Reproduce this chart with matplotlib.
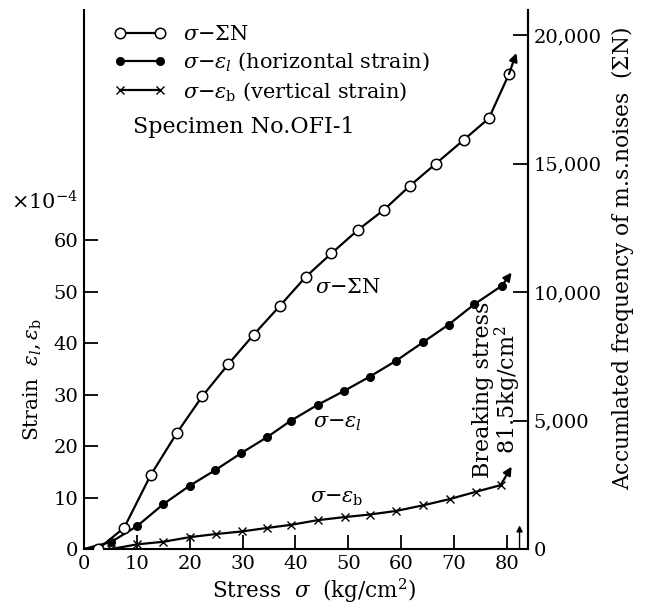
import numpy as np
import matplotlib
matplotlib.use("Agg")
import matplotlib.pyplot as plt

plt.rcParams["font.family"] = "DejaVu Serif"
plt.rcParams["mathtext.fontset"] = "dejavuserif"

# ==========================
# Data
# ==========================

# sigma - Sigma N  (right axis)
stress_N = [0, 2.7, 7.6, 12.6, 17.6, 22.4, 27.3, 32.1, 37.1, 42.0,
            46.8, 51.8, 56.7, 61.7, 66.6, 71.8, 76.6, 80.4]
noise_N = [0, 0, 830, 2870, 4525, 5950, 7190, 8340, 9470, 10600,
           11500, 12410, 13190, 14140, 15000, 15910, 16760, 18480]

# sigma - eps_l  (horizontal strain, x1e-4)
stress_l = [0, 5.2, 10.1, 15, 20, 24.8, 29.7, 34.6, 39.1, 44.2,
            49.2, 54.1, 59.1, 64.2, 69.0, 73.8, 79.0]
strain_l = [0, 1.4, 4.5, 8.7, 12.3, 15.3, 18.6, 21.7, 24.9, 28.0,
            30.7, 33.5, 36.6, 40.2, 43.6, 47.5, 51.1]

# sigma - eps_b  (vertical strain, x1e-4)
stress_b = [0, 5.2, 10, 15, 20, 24.9, 29.8, 34.7, 39.2, 44.2,
            49.3, 54.1, 59.1, 64.2, 69.2, 74.1, 78.8]
strain_b = [0, 0, 0.9, 1.4, 2.3, 2.9, 3.4, 4.1, 4.7, 5.6,
            6.2, 6.7, 7.4, 8.5, 9.7, 11.1, 12.4]

# arrow tips after the last reading
tip_N = (81.8, 19300)
tip_l = (80.9, 53.7)
tip_b = (80.9, 16.0)

breaking_stress = 82.4

x_ticks = [0, 10, 20, 30, 40, 50, 60, 70, 80]
left_ticks = [0, 10, 20, 30, 40, 50, 60]
right_ticks = [0, 5000, 10000, 15000, 20000]
right_labels = ["0", "5,000", "10,000", "15,000", "20,000"]

# ==========================
# Plot
# ==========================

W, H = 648, 608
fig = plt.figure(figsize=(W / 100, H / 100), dpi=100)
ax = fig.add_axes([84 / W, 1 - 549 / H, (528 - 84) / W, (549 - 10) / H])
ax2 = ax.twinx()

ax.set_xlim(0, 84)
ax.set_ylim(0, 104.7)
ax2.set_ylim(0, 20973)

lw = 1.6
h1, = ax2.plot(stress_N, noise_N, color="k", lw=lw, marker="o", ms=7.5,
               mfc="white", mec="k", mew=1.1, markevery=slice(1, None))
h2, = ax.plot(stress_l, strain_l, color="k", lw=lw, marker="o", ms=5.5,
              mfc="k", mec="k", markevery=slice(1, None))
h3, = ax.plot(stress_b, strain_b, color="k", lw=lw, marker="x", ms=6,
              mew=1.0, markevery=slice(1, None))

arrow = dict(arrowstyle="-|>", lw=lw, color="k", mutation_scale=12,
             shrinkA=0, shrinkB=0)
ax2.annotate("", xy=tip_N, xytext=(stress_N[-1], noise_N[-1]), arrowprops=arrow)
ax.annotate("", xy=tip_l, xytext=(stress_l[-1], strain_l[-1]), arrowprops=arrow)
ax.annotate("", xy=tip_b, xytext=(stress_b[-1], strain_b[-1]), arrowprops=arrow)
ax.annotate("", xy=(breaking_stress, 4.6), xytext=(breaking_stress, 0),
            arrowprops=dict(arrowstyle="-|>", lw=1.0, color="k",
                            mutation_scale=9, shrinkA=0, shrinkB=0))

# axes styling
for a in (ax, ax2):
    a.spines["top"].set_visible(False)
    for s in a.spines.values():
        s.set_linewidth(1.5)
ax2.spines["left"].set_visible(False)
ax2.spines["bottom"].set_visible(False)

ax.set_xticks(x_ticks)
ax.set_yticks(left_ticks)
ax2.set_yticks(right_ticks)
ax2.set_yticklabels(right_labels)
ax.tick_params(direction="in", length=10, width=1.3, labelsize=14, pad=4)
ax2.tick_params(direction="in", length=11, width=1.3, labelsize=14, pad=4)

fig.text(314 / W, 1 - 591 / H, r"Stress  $\sigma$  (kg/cm$^2$)",
         ha="center", va="center", fontsize=15.5)
fig.text(32 / W, 1 - 380 / H, r"Strain  $\varepsilon_l,\varepsilon_{\rm b}$",
         rotation=90, ha="center", va="center", fontsize=14.5)
fig.text(623 / W, 1 - 258 / H,
         r"Accumlated frequency of m.s.noises  ($\Sigma$N)",
         rotation=90, ha="center", va="center", fontsize=15.7)
fig.text(78 / W, 1 - 202 / H, r"$\times10^{-4}$", ha="right", va="center",
         fontsize=15)

# curve labels
ax.text(43.7, 50.8, r"$\sigma{-}\Sigma$N", fontsize=15, va="center")
ax.text(43.3, 24.4, r"$\sigma{-}\varepsilon_l$", fontsize=15, va="center")
ax.text(42.7, 9.9, r"$\sigma{-}\varepsilon_{\rm b}$", fontsize=15, va="center")

ax.text(78.2, 31.0, "Breaking stress\n81.5kg/cm$^2$", rotation=90,
        ha="center", va="center", multialignment="center", fontsize=16,
        linespacing=0.95)

leg = ax.legend([h1, h2, h3],
                [r"$\sigma{-}\Sigma$N",
                 r"$\sigma{-}\varepsilon_l$ (horizontal strain)",
                 r"$\sigma{-}\varepsilon_{\rm b}$ (vertical strain)"],
                loc="upper left", bbox_to_anchor=(30 / 444, 1 - 15 / 539),
                frameon=False, numpoints=2, handlelength=2.5,
                handletextpad=0.8, labelspacing=0.32, fontsize=15,
                borderaxespad=0, borderpad=0)
for lh in leg.legend_handles:
    lh.set_markevery(None)

fig.text(133 / W, 1 - 127 / H, "Specimen No.OFI-1", ha="left", va="center",
         fontsize=16)

plt.savefig("out.png", dpi=100)
